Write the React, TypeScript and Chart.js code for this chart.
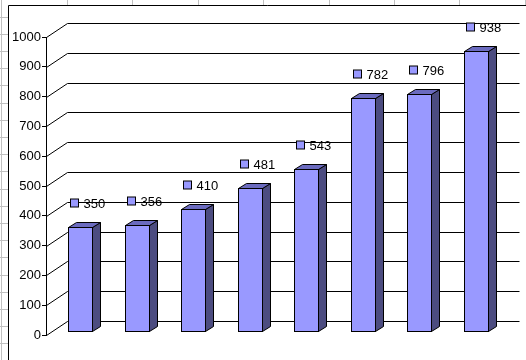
import React, { useEffect, useRef } from "react";
import { Chart, registerables } from "chart.js";

Chart.register(...registerables);

const categories = ["1", "2", "3", "4", "5", "6", "7", "8"];
const values = [350, 356, 410, 481, 543, 782, 796, 938];
const yMin = 0;
const yMax = 1000;
const yStep = 100;

const FONT = "'Liberation Sans', Arial, sans-serif";
const FRONT = "#9999FF";
const TOP = "#6B6BBF";
const SIDE = "#4C4C80";
const SHEET_GRID = "#C0C0C0";

// 3D geometry (pixels)
const WALL_DX = 21;
const WALL_DY = -14;
const BAR_SHIFT_X = 6;
const BAR_SHIFT_Y = -4;
const BAR_DX = 8;
const BAR_DY = -5;
const LABEL_OFFSET = 24;

const excel3d = {
  id: "excel3d",
  beforeDraw(chart: any) {
    const { ctx, width, height } = chart;
    ctx.save();
    ctx.fillStyle = "#FFFFFF";
    ctx.fillRect(0, 0, width, height);
    // spreadsheet grid behind the chart object
    ctx.strokeStyle = SHEET_GRID;
    ctx.lineWidth = 1;
    ctx.beginPath();
    ctx.moveTo(1.5, 0);
    ctx.lineTo(1.5, height);
    for (let y = 16.7; y < height; y += 17.19) {
      const yy = Math.round(y) + 0.5;
      ctx.moveTo(0, yy);
      ctx.lineTo(8, yy);
    }
    for (let x = 67; x < width; x += 65.4) {
      const xx = Math.round(x) + 0.5;
      ctx.moveTo(xx, 0);
      ctx.lineTo(xx, 5);
    }
    ctx.stroke();
    // chart object border
    ctx.fillStyle = "#FFFFFF";
    ctx.fillRect(8, 5, width, height);
    ctx.strokeStyle = "#000000";
    ctx.beginPath();
    ctx.moveTo(8.5, height + 2);
    ctx.lineTo(8.5, 5.5);
    ctx.lineTo(width + 2, 5.5);
    ctx.stroke();
    ctx.restore();
  },
  beforeDatasetsDraw(chart: any) {
    const { ctx, chartArea } = chart;
    const ys = chart.scales.y;
    ctx.save();
    ctx.strokeStyle = "#000000";
    ctx.lineWidth = 1;
    ctx.beginPath();
    for (let v = yMin; v <= yMax; v += yStep) {
      const y = Math.round(ys.getPixelForValue(v)) + 0.5;
      const x0 = Math.round(chartArea.left) + 0.5;
      ctx.moveTo(x0, y);
      ctx.lineTo(x0 + WALL_DX, y + WALL_DY);
      ctx.lineTo(Math.round(chartArea.right) + WALL_DX + 0.5, y + WALL_DY);
    }
    ctx.stroke();
    ctx.restore();
  },
  afterDatasetsDraw(chart: any) {
    const { ctx } = chart;
    const meta = chart.getDatasetMeta(0);
    ctx.save();
    ctx.strokeStyle = "#000000";
    ctx.lineWidth = 1;
    ctx.lineJoin = "miter";
    meta.data.forEach((bar: any, i: number) => {
      const p = bar.getProps(["x", "y", "base", "width"], true);
      const l = Math.round(p.x - p.width / 2 + BAR_SHIFT_X) + 0.5;
      const r = Math.round(p.x + p.width / 2 + BAR_SHIFT_X) + 0.5;
      const t = Math.round(p.y + BAR_SHIFT_Y) + 0.5;
      const b = Math.round(p.base + BAR_SHIFT_Y) + 0.5;
      // side face
      ctx.fillStyle = SIDE;
      ctx.beginPath();
      ctx.moveTo(r, t);
      ctx.lineTo(r + BAR_DX, t + BAR_DY);
      ctx.lineTo(r + BAR_DX, b + BAR_DY);
      ctx.lineTo(r, b);
      ctx.closePath();
      ctx.fill();
      ctx.stroke();
      // top face
      ctx.fillStyle = TOP;
      ctx.beginPath();
      ctx.moveTo(l, t);
      ctx.lineTo(l + BAR_DX, t + BAR_DY);
      ctx.lineTo(r + BAR_DX, t + BAR_DY);
      ctx.lineTo(r, t);
      ctx.closePath();
      ctx.fill();
      ctx.stroke();
      // front face
      ctx.fillStyle = FRONT;
      ctx.fillRect(l, t, r - l, b - t);
      ctx.strokeRect(l, t, r - l, b - t);
      // data label with legend key
      const cy = Math.round(p.y + BAR_SHIFT_Y - LABEL_OFFSET);
      const kx = l + 2;
      ctx.fillStyle = FRONT;
      ctx.fillRect(kx, cy - 4, 8, 8);
      ctx.strokeRect(kx, cy - 4, 8, 8);
      ctx.fillStyle = "#000000";
      ctx.font = "13px " + FONT;
      ctx.textAlign = "left";
      ctx.textBaseline = "middle";
      ctx.fillText(String(values[i]), kx + 13, cy + 1);
    });
    ctx.restore();
  },
};

export default function App() {
  const ref = useRef<HTMLCanvasElement | null>(null);
  useEffect(() => {
    if (!ref.current) return;
    const chart = new Chart(ref.current, {
      type: "bar",
      data: {
        labels: categories,
        datasets: [
          {
            data: values,
            backgroundColor: "rgba(0,0,0,0)",
            borderWidth: 0,
            barPercentage: 0.42,
            categoryPercentage: 1,
          },
        ],
      },
      options: {
        animation: false,
        responsive: false,
        devicePixelRatio: 1,
        layout: { padding: { left: 0, top: 37, right: 28, bottom: 25 } },
        plugins: { legend: { display: false }, tooltip: { enabled: false } },
        scales: {
          x: { display: false },
          y: {
            min: yMin,
            max: yMax,
            afterFit: (s: any) => {
              s.width = 46;
            },
            ticks: {
              stepSize: yStep,
              color: "#000000",
              padding: 1,
              font: { family: FONT, size: 13 },
              callback: (v: any) => String(v),
            },
            grid: {
              drawOnChartArea: false,
              drawTicks: true,
              tickLength: 4,
              color: "#000000",
            },
            border: { display: true, color: "#000000" },
          },
        },
      },
      plugins: [excel3d],
    });
    return () => chart.destroy();
  }, []);
  return (
    <div style={{ position: "fixed", left: 0, top: 0, width: 526, height: 360 }}>
      <canvas ref={ref} width={526} height={360} />
    </div>
  );
}
